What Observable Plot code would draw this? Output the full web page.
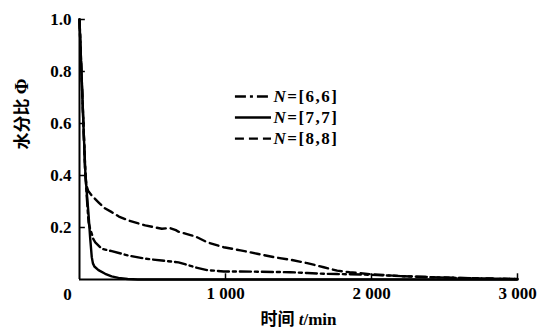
<!DOCTYPE html>
<html><head><meta charset="utf-8">
<script src="https://cdn.jsdelivr.net/npm/d3@7"></script>
<script src="https://cdn.jsdelivr.net/npm/@observablehq/plot@0.6"></script>
<style>
html,body{margin:0;padding:0;background:#fff;}
#chart svg{display:block;}
</style></head><body><div id="chart"></div>
<script>
// ---- data ----
const seriesNames = ["N=[6,6]", "N=[7,7]", "N=[8,8]"];

const t66   = [0, 10, 20, 30, 41, 52, 62, 75, 84, 95, 108, 153, 221, 336, 450, 564, 678, 740, 792, 875, 988, 1103, 1217, 1331, 1445, 1560, 1673, 1765, 1850, 2000, 2200, 2400, 2600, 2800, 3000];
const phi66 = [1.0, 0.85, 0.7, 0.55, 0.4, 0.3, 0.22, 0.19, 0.176, 0.155, 0.143, 0.118, 0.109, 0.092, 0.080, 0.073, 0.066, 0.056, 0.047, 0.036, 0.031, 0.031, 0.030, 0.029, 0.028, 0.025, 0.022, 0.021, 0.020, 0.018, 0.013, 0.009, 0.006, 0.004, 0.002];

const t77   = [0, 10, 20, 30, 41, 52, 62, 73, 84, 92, 102, 130, 176, 220, 267, 330, 400, 1000, 2000, 3000];
const phi77 = [1.0, 0.85, 0.7, 0.55, 0.4, 0.32, 0.25, 0.16, 0.086, 0.062, 0.05, 0.036, 0.022, 0.012, 0.006, 0.002, 0.0, 0.0, 0.0, 0.0];

const t88   = [0, 10, 20, 30, 38, 48, 60, 84, 130, 170, 221, 270, 336, 450, 564, 620, 660, 678, 760, 792, 875, 988, 1103, 1217, 1331, 1445, 1560, 1673, 1765, 1850, 2000, 2200, 2400, 2600, 2800, 3000];
const phi88 = [1.0, 0.85, 0.7, 0.55, 0.42, 0.36, 0.34, 0.323, 0.297, 0.275, 0.259, 0.242, 0.227, 0.208, 0.195, 0.198, 0.190, 0.184, 0.171, 0.166, 0.143, 0.124, 0.112, 0.099, 0.086, 0.076, 0.063, 0.047, 0.034, 0.028, 0.020, 0.013, 0.009, 0.006, 0.004, 0.002];

const xTicks = [1000, 2000, 3000];
const xTickLabels = ["1 000", "2 000", "3 000"];
const yTicks = [0.2, 0.4, 0.6, 0.8, 1.0];
const yTickLabels = ["0.2", "0.4", "0.6", "0.8", "1.0"];
const originLabel = ["0"];
const xTitle = "时间 t/min";
const yTitle = "水分比 Φ";

// ---- build tables ----
const rows = (ts, ps) => ts.map((t, i) => ({t, phi: ps[i]}));
const s66 = rows(t66, phi66), s77 = rows(t77, phi77), s88 = rows(t88, phi88);

const dashes = ["11,4,3,4", null, "9,5"];
const serif = "Liberation Serif";
const mixed = "Liberation Serif, Noto Sans CJK SC";

// legend layout (in data units)
const legX1 = 1068, legX2 = 1315;
const legY = [0.704, 0.623, 0.542];
const legend = seriesNames.map((name, i) => ({name, y: legY[i], dash: dashes[i]}));

const marks = [
  Plot.line(s66, {x: "t", y: "phi", stroke: "#000", strokeWidth: 2.4, strokeDasharray: dashes[0]}),
  Plot.line(s77, {x: "t", y: "phi", stroke: "#000", strokeWidth: 2.4}),
  Plot.line(s88, {x: "t", y: "phi", stroke: "#000", strokeWidth: 2.4, strokeDasharray: dashes[2]}),
  Plot.ruleX([0], {stroke: "#000", strokeWidth: 2}),
  Plot.ruleY([0], {stroke: "#000", strokeWidth: 2}),
  Plot.ruleX(xTicks, {y1: 0, y2: 0.022, stroke: "#000", strokeWidth: 1.5}),
  Plot.ruleY(yTicks, {x1: 0, x2: 40, stroke: "#000", strokeWidth: 1.5}),
  Plot.axisX({ticks: xTicks, tickFormat: d => xTickLabels[xTicks.indexOf(d)], tickSize: 0, tickPadding: 7, label: null,
              fontSize: 17, fontWeight: "bold", fontFamily: serif}),
  Plot.axisY({ticks: yTicks, tickFormat: d => yTickLabels[yTicks.indexOf(d)], tickSize: 0, tickPadding: 8, label: null,
              fontSize: 17, fontWeight: "bold", fontFamily: serif}),
  Plot.text(originLabel, {x: 0, y: 0, text: d => d, dx: -12, dy: 15, fontSize: 17, fontWeight: "bold", fontFamily: serif}),
  Plot.text([xTitle], {frameAnchor: "bottom", text: d => d, dy: 45, fontSize: 17, fontWeight: "bold", fontFamily: mixed}),
  Plot.text([yTitle], {frameAnchor: "left", text: d => d, dx: -57, rotate: -90, fontSize: 17, fontWeight: "bold", fontFamily: mixed}),
];

legend.forEach((d) => {
  marks.push(Plot.ruleY([d], {y: "y", x1: legX1, x2: legX2, stroke: "#000", strokeWidth: 2.4, strokeDasharray: d.dash}));
  marks.push(Plot.text([d], {x: legX2, y: "y", text: "name", textAnchor: "start", dx: 2, fontSize: 17, fontWeight: "bold",
    fontFamily: serif}));
});

const chart = Plot.plot({
  width: 551, height: 329,
  marginLeft: 79, marginRight: 34, marginTop: 19, marginBottom: 50,
  x: {domain: [0, 3000], axis: null},
  y: {domain: [0, 1], axis: null},
  style: {background: "#fff", color: "#000", fontFamily: "Liberation Serif", fontSize: "17px", overflow: "visible"},
  marks
});
document.getElementById("chart").appendChild(chart);

// italic parts of mixed-style labels
const NS = "http://www.w3.org/2000/svg";
chart.querySelectorAll("text").forEach(el => {
  const s = el.textContent;
  if (/^N=\[/.test(s)) {
    el.textContent = "";
    const a = document.createElementNS(NS, "tspan");
    a.setAttribute("font-style", "italic"); a.textContent = "N";
    el.appendChild(a);
    el.appendChild(document.createTextNode(s.slice(1)));
    el.setAttribute("letter-spacing", "1.5");
  } else if (s === xTitle) {
    el.textContent = "";
    el.appendChild(document.createTextNode("时间 "));
    const a = document.createElementNS(NS, "tspan");
    a.setAttribute("font-style", "italic"); a.textContent = "t";
    el.appendChild(a);
    el.appendChild(document.createTextNode("/min"));
  } else if (s === yTitle) {
    el.textContent = "";
    el.appendChild(document.createTextNode("水分比 "));
    const a = document.createElementNS(NS, "tspan");
    a.setAttribute("font-size", "19"); a.textContent = "Φ";
    el.appendChild(a);
  }
});
</script>
</body></html>
